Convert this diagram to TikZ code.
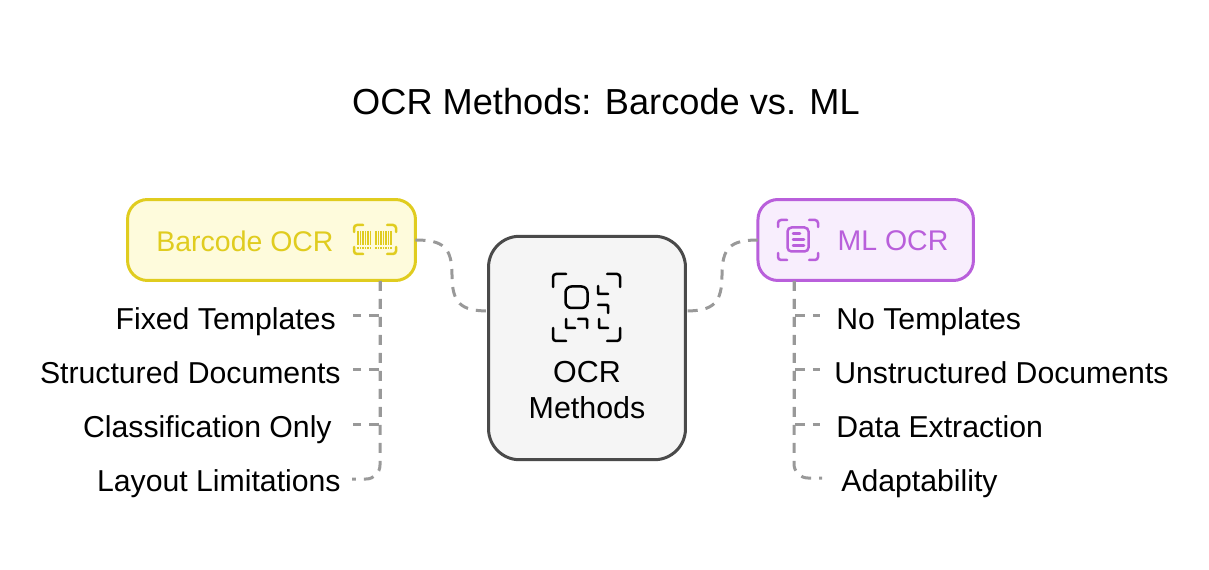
\documentclass[tikz,border=0pt]{standalone}
\usepackage{fontspec}
\setmainfont{Liberation Sans}
\usetikzlibrary{positioning, calc}
\definecolor{barcodeline}{HTML}{E0CC1F}
\definecolor{barcodefill}{HTML}{FEFBDC}
\definecolor{mlline}{HTML}{B95FDB}
\definecolor{mlfill}{HTML}{F8EEFD}
\definecolor{ocrline}{HTML}{4A4A4A}
\definecolor{ocrfill}{HTML}{F5F5F5}
\definecolor{dashgray}{HTML}{999999}
\tikzset{
	topicbox/.style={draw, line width=0.06cm, rounded corners=0.4cm, minimum height=1.62cm, outer sep=0pt, inner sep=0pt}
}
\tikzset{
	leaftext/.style={font=\fontsize{17.2}{20}\selectfont, inner sep=0pt, text height=0.44cm, text depth=0.12cm}
}
\tikzset{
	topictext/.style={font=\fontsize{16.2}{20}\selectfont, inner sep=0pt}
}
\tikzset{
	branchline/.style={line width=0.06cm, dashgray, dash pattern=on 2mm off 1.6mm}
}
\tikzset{
	iconline/.style={line width=0.05cm, rounded corners=0.06cm, line cap=round}
}
\begin{document}
\begin{tikzpicture}[x=0.02cm, y=-0.02cm]
      \useasboundingbox (0,0) rectangle (1209,570);
      \node[font=\fontsize{20.6}{24}\selectfont, inner sep=0pt] (title) at (606,102) {OCR Methods: Barcode vs. ML};
      % topic boxes
      \node[topicbox, draw=barcodeline, fill=barcodefill, minimum width=5.76cm] (barcode) at (271.5,240) {};
      \node[topicbox, draw=mlline, fill=mlfill, minimum width=4.31cm] (ml) at (865.7,240) {};
      \node[draw=ocrline, fill=ocrfill, line width=0.06cm, rounded corners=0.62cm, minimum width=3.94cm, minimum height=4.47cm, outer sep=0pt, inner sep=0pt] (ocr) at (587,348) {};
      \node[topictext, text=barcodeline] (barcodetext) at (245,241) {Barcode OCR};
      \node[topictext, text=mlline] (mltext) at (893,241) {ML OCR};
      \node[align=center, inner sep=0pt, font=\fontsize{17.3}{20.4}\selectfont] (ocrtext) at (587,390) {OCR\\Methods};
      % links to the middle box
      \coordinate (ocrleft) at (ocr.west |- 0,311);
      \coordinate (ocrright) at (ocr.east |- 0,311);
      \coordinate (leftmid) at (452,275);
      \coordinate (rightmid) at (722,275);
      \draw[branchline] (barcode.east) to[out=0, in=90, looseness=1.4] (leftmid) to[out=-90, in=180, looseness=1.4] (ocrleft);
      \draw[branchline] (ml.west) to[out=180, in=90, looseness=1.4] (rightmid) to[out=-90, in=0, looseness=1.4] (ocrright);
      % left branch
      \coordinate (barcodetrunk) at (380,281);
      \coordinate (fixedend) at (353,316);
      \coordinate (structuredend) at (353,370);
      \coordinate (classend) at (353,424);
      \coordinate (layoutend) at (352,479);
      \draw[branchline] (barcodetrunk) |- (fixedend);
      \draw[branchline] (barcodetrunk) |- (structuredend);
      \draw[branchline] (barcodetrunk) |- (classend);
      \draw[branchline, rounded corners=0.28cm] (barcodetrunk) |- (layoutend);
      \node[leaftext, left=3.4mm of fixedend, yshift=-0.11cm] (fixed) {Fixed Templates};
      \node[leaftext, left=2.4mm of structuredend, yshift=-0.11cm] (structured) {Structured Documents};
      \node[leaftext, left=4.2mm of classend, yshift=-0.11cm] (class) {Classification Only};
      \node[leaftext, left=2.2mm of layoutend, yshift=-0.09cm] (layout) {Layout Limitations};
      % right branch
      \coordinate (mltrunk) at (794,281);
      \coordinate (notemplend) at (820,316);
      \coordinate (unstructend) at (820,370);
      \coordinate (extractend) at (820,424);
      \coordinate (adaptend) at (822,478);
      \draw[branchline] (mltrunk) |- (notemplend);
      \draw[branchline] (mltrunk) |- (unstructend);
      \draw[branchline] (mltrunk) |- (extractend);
      \draw[branchline, rounded corners=0.28cm] (mltrunk) |- (adaptend);
      \node[leaftext, right=3.2mm of notemplend, yshift=-0.11cm] (notempl) {No Templates};
      \node[leaftext, right=2.8mm of unstructend, yshift=-0.11cm] (unstruct) {Unstructured Documents};
      \node[leaftext, right=3.2mm of extractend, yshift=-0.11cm] (extract) {Data Extraction};
      \node[leaftext, right=3.8mm of adaptend, yshift=-0.11cm] (adapt) {Adaptability};
      % barcode icon
      \foreach \x/\y in {354/225, 396/225, 354/254, 396/254} {
        \draw[iconline, barcodeline] ({\x+(\x<375?9:-9)},\y) -- (\x,\y) -- (\x,{\y+(\y<240?7:-7)});
      }
      \foreach \x in {358,360.5,363,365.5,368,370.5,376,378.5,381,383.5,386,388.5,391} {
        \draw[barcodeline, line width=0.036cm] (\x,231) -- (\x,245);
        \draw[barcodeline, line width=0.036cm] (\x,247) -- (\x,249);
      }
      % ml icon
      \foreach \x/\y in {778/220, 818/220, 778/260, 818/260} {
        \draw[iconline, mlline] ({\x+(\x<800?9:-9)},\y) -- (\x,\y) -- (\x,{\y+(\y<240?7:-7)});
      }
      \draw[iconline, mlline, rounded corners=0.08cm] (787.5,227.5) rectangle (808.5,251.5);
      \draw[iconline, mlline] (793,233.5) -- (800,233.5);
      \draw[iconline, mlline] (793,239.5) -- (804,239.5);
      \draw[iconline, mlline] (793,245.5) -- (804,245.5);
      % ocr icon
      \foreach \x/\y in {553/274, 620/274, 553/341, 620/341} {
        \draw[iconline] ({\x+(\x<585?13:-13)},\y) -- (\x,\y) -- (\x,{\y+(\y<300?13:-13)});
      }
      \draw[iconline, rounded corners=0.12cm] (565.5,286.5) rectangle (587.5,308);
      \draw[iconline, rounded corners=0.02cm] (598,286) -- (598,294) -- (608,294);
      \draw[iconline, rounded corners=0.02cm] (598,305) -- (608,305) -- (608,313);
      \draw[iconline, rounded corners=0.02cm] (566,319) -- (566,328) -- (575,328);
      \draw[iconline, rounded corners=0.02cm] (578,319) -- (587,319) -- (587,328);
      \draw[iconline, rounded corners=0.02cm] (599,319) -- (599,328) -- (608,328);
\end{tikzpicture}
\end{document}
